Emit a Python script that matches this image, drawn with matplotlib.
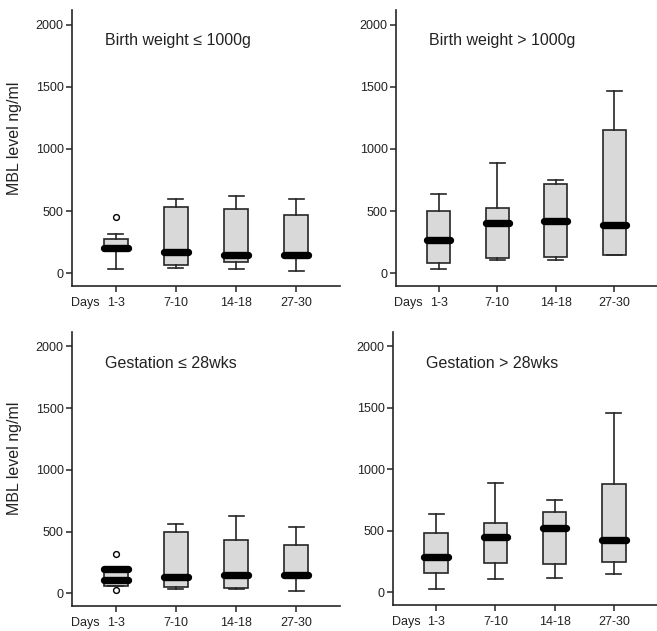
import matplotlib
matplotlib.use("Agg")
import matplotlib.pyplot as plt

plt.rcParams['font.family'] = ['Liberation Sans', 'DejaVu Sans']

days = ["1-3", "7-10", "14-18", "27-30"]
titles = ["Birth weight \u2264 1000g", "Birth weight > 1000g",
          "Gestation \u2264 28wks", "Gestation > 28wks"]

# per panel, per time point: low whisker, q1, median, q3, high whisker
bw_le1000_whislo = [35, 40, 32, 20]
bw_le1000_q1 = [190, 67, 94, 140]
bw_le1000_med = [200, 174, 147, 147]
bw_le1000_q3 = [272, 536, 517, 469]
bw_le1000_whishi = [314, 595, 625, 600]
bw_le1000_fliers = [[456], [], [], []]

bw_gt1000_whislo = [32, 106, 111, 151]
bw_gt1000_q1 = [85, 127, 133, 151]
bw_gt1000_med = [265, 403, 419, 385]
bw_gt1000_q3 = [504, 525, 716, 1149]
bw_gt1000_whishi = [637, 883, 753, 1465]
bw_gt1000_fliers = [[], [], [], []]

ga_le28_whislo = [59, 37, 32, 19]
ga_le28_q1 = [59, 51, 43, 130]
ga_le28_med = [112, 131, 147, 147]
ga_le28_q3 = [200, 495, 433, 393]
ga_le28_whishi = [200, 559, 627, 540]
ga_le28_fliers = [[316, 27], [], [], []]
ga_le28_extra_bar = [200, None, None, None]

ga_gt28_whislo = [32, 110, 118, 148]
ga_gt28_q1 = [162, 242, 229, 248]
ga_gt28_med = [288, 450, 522, 428]
ga_gt28_q3 = [482, 563, 657, 880]
ga_gt28_whishi = [638, 888, 754, 1459]
ga_gt28_fliers = [[], [], [], []]

panels = [
    (bw_le1000_whislo, bw_le1000_q1, bw_le1000_med, bw_le1000_q3, bw_le1000_whishi, bw_le1000_fliers, [None]*4),
    (bw_gt1000_whislo, bw_gt1000_q1, bw_gt1000_med, bw_gt1000_q3, bw_gt1000_whishi, bw_gt1000_fliers, [None]*4),
    (ga_le28_whislo, ga_le28_q1, ga_le28_med, ga_le28_q3, ga_le28_whishi, ga_le28_fliers, ga_le28_extra_bar),
    (ga_gt28_whislo, ga_gt28_q1, ga_gt28_med, ga_gt28_q3, ga_gt28_whishi, ga_gt28_fliers, [None]*4),
]

W, H = 657, 631
fig = plt.figure(figsize=(W / 100, H / 100), dpi=100)

# pixel boxes: left, right, top, bottom
boxes_px = [(72, 340, 10, 286), (396, 657, 10, 286),
            (72, 340, 332, 606), (393, 657, 332, 605)]

ink = "#262626"
lw = 1.2
width = 0.4
for i, (pb, data) in enumerate(zip(boxes_px, panels)):
    l, r, t, b = pb
    ax = fig.add_axes([l / W, (H - b) / H, (r - l) / W, (b - t) / H])
    wl, q1, med, q3, wh, fl, extra = data
    stats = []
    for k in range(4):
        stats.append(dict(whislo=wl[k], q1=q1[k], med=med[k], q3=q3[k],
                          whishi=wh[k], fliers=fl[k], label=days[k]))
    ax.bxp(stats, positions=[1, 2, 3, 4], widths=width, patch_artist=True,
           capwidths=0.25,
           boxprops=dict(facecolor="#d9d9d9", edgecolor=ink, linewidth=lw),
           whiskerprops=dict(color=ink, linewidth=lw),
           capprops=dict(color=ink, linewidth=lw),
           medianprops=dict(color="black", linewidth=5.3, solid_capstyle="round"),
           flierprops=dict(marker="o", markersize=4.2, markerfacecolor="white",
                           markeredgecolor="black", markeredgewidth=1.0))
    for k, e in enumerate(extra):
        if e is not None:
            ax.plot([k + 1 - width / 2, k + 1 + width / 2], [e, e], color="black",
                    linewidth=5.3, solid_capstyle="round")
    ax.set_xlim(0.27, 4.73)
    ax.set_ylim(-102, 2117)
    ax.set_yticks([0, 500, 1000, 1500, 2000])
    ax.set_xticks([1, 2, 3, 4])
    ax.set_xticklabels(days)
    for s in ["top", "right"]:
        ax.spines[s].set_visible(False)
    for s in ["left", "bottom"]:
        ax.spines[s].set_color(ink)
        ax.spines[s].set_linewidth(1.2)
    ax.tick_params(axis="both", direction="out", colors=ink, labelcolor="#222222",
                   width=1.1, labelsize=9)
    ax.tick_params(axis="y", length=4, pad=2)
    ax.tick_params(axis="x", length=4.5, pad=3.5)
    ax.annotate("Days", xy=(1, 0), xycoords=("data", "axes fraction"),
                xytext=(-11.5, -8), textcoords="offset points", ha="right", va="top",
                fontsize=9, color="#222222")
    ax.text(33 / (r - l), 1 - 31 / (b - t), titles[i], transform=ax.transAxes,
            ha="left", va="center", fontsize=11.5, color="#222222")
    ax.patch.set_alpha(0)

fig.text(15 / W, 1 - 138 / H, "MBL level ng/ml", rotation=90, ha="center",
         va="center", fontsize=11.5, color="#222222")
fig.text(15 / W, 1 - 458 / H, "MBL level ng/ml", rotation=90, ha="center",
         va="center", fontsize=11.5, color="#222222")

fig.savefig("out.png", dpi=100)
